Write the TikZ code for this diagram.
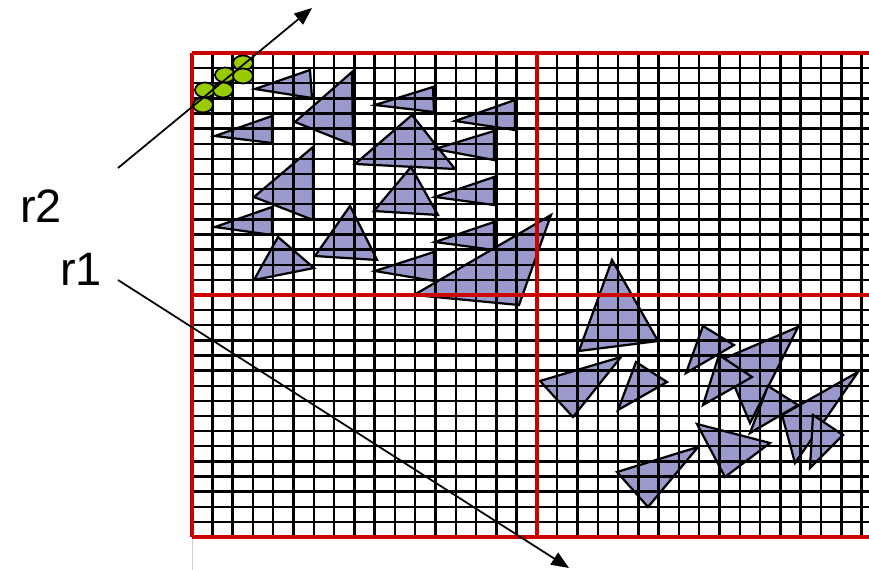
\documentclass[tikz,border=0pt]{standalone}
\usepackage{fontspec}
\setsansfont{Liberation Sans}
\usetikzlibrary{arrows.meta}
\definecolor{lineR}{HTML}{CC0000}
\definecolor{triF}{HTML}{9999CC}
\definecolor{dotG}{HTML}{99CC00}
\definecolor{shadeG}{HTML}{D0D0D0}

\begin{document}
\begin{tikzpicture}[x=0.03cm,y=-0.03cm,
  tri/.style={fill=triF, draw=black, line width=1.9pt},
  cell/.style={draw=black, line width=2.1pt},
  border/.style={draw=lineR, line width=3pt},
  dot/.style={fill=dotG, draw=black, line width=1.5pt, x radius=10, y radius=7.5},
  ray/.style={draw=black, line width=1.5pt, -{Triangle[length=15pt,width=12pt]}},
  lbl/.style={font=\sffamily\fontsize{40}{44}\selectfont, inner sep=0pt}]
\useasboundingbox (0,0) rectangle (869,570);

% triangles, upper left block
\draw[tri] (255,89) -- (310,70) -- (312,98) -- cycle;
\draw[tri] (352,72) -- (295,122) -- (353,145) -- cycle;
\draw[tri] (215,136) -- (272,116) -- (272,143) -- cycle;
\draw[tri] (375,105) -- (433,87) -- (434,112) -- cycle;
\draw[tri] (455,121) -- (515,100) -- (515,130) -- cycle;
\draw[tri] (412,115) -- (355,164) -- (455,169) -- cycle;
\draw[tri] (435,149) -- (494,131) -- (494,160) -- cycle;
\draw[tri] (313,147) -- (254,197) -- (313,220) -- cycle;
\draw[tri] (411,167) -- (374,211) -- (438,215) -- cycle;
\draw[tri] (435,197) -- (494,177) -- (494,205) -- cycle;
\draw[tri] (215,227) -- (272,207) -- (272,235) -- cycle;
\draw[tri] (278,237) -- (254,280) -- (314,268) -- cycle;
\draw[tri] (350,206) -- (315,256) -- (377,260) -- cycle;
\draw[tri] (435,242) -- (494,222) -- (494,250) -- cycle;
\draw[tri] (375,271) -- (434,252) -- (434,281) -- cycle;
\draw[tri] (551,215) -- (414,295) -- (519,305) -- cycle;

% triangles, lower right block
\draw[tri] (612,260) -- (579,351) -- (658,341) -- cycle;
\draw[tri] (540,381) -- (621,357) -- (573,417) -- cycle;
\draw[tri] (636,362) -- (667,382) -- (618,410) -- cycle;
\draw[tri] (703,326) -- (734,345) -- (686,373) -- cycle;
\draw[tri] (798,327) -- (723,359) -- (750,423) -- cycle;
\draw[tri] (719,355) -- (752,377) -- (703,405) -- cycle;
\draw[tri] (768,386) -- (798,405) -- (750,433) -- cycle;
\draw[tri] (858,372) -- (782,415) -- (795,463) -- cycle;
\draw[tri] (813,415) -- (843,435) -- (810,468) -- cycle;
\draw[tri] (697,424) -- (770,443) -- (725,477) -- cycle;
\draw[tri] (617,472) -- (698,447) -- (648,507) -- cycle;

% mesh
\draw[shadeG, line width=0.8pt] (192,537) -- (192,570);
\begin{scope}
\clip (0,0) rectangle (869,570);
\foreach \i in {0,...,32}
  \draw[cell] (192,53+\i*15.125) -- (882,53+\i*15.125);
\foreach \j in {0,...,34}
  \draw[cell] (192+\j*20.29,53) -- (192+\j*20.29,537);
\draw[border] (192,53) -- (882,53);
\draw[border] (192,295) -- (882,295);
\draw[border] (192,537) -- (882,537);
\draw[border] (192,53) -- (192,537);
\draw[border] (537,53) -- (537,537);
\end{scope}

% particles
\draw[dot] (243,63) ellipse [];
\draw[dot] (225,75) ellipse [];
\draw[dot] (243,76) ellipse [];
\draw[dot] (205,90) ellipse [];
\draw[dot] (223,90) ellipse [];
\draw[dot] (203,105) ellipse [];

% rays
\node[lbl] (r2) at (41,206) {r2};
\node[lbl] (r1) at (81,269) {r1};
\coordinate (r2a) at (118,168);
\coordinate (r2b) at (312,8);
\coordinate (r1a) at (118,280);
\coordinate (r1b) at (569,568);
\draw[ray] (r2a) -- (r2b);
\draw[ray] (r1a) -- (r1b);
\end{tikzpicture}
\end{document}
